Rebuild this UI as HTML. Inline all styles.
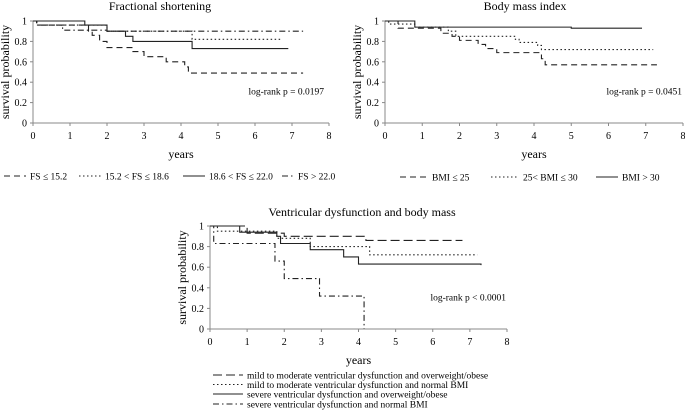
<!DOCTYPE html>
<html><head><meta charset="utf-8"><style>
html,body{margin:0;padding:0;background:#fff;}
svg{display:block;font-family:"Liberation Serif",serif;}
</style></head><body>
<svg id="s" width="685" height="416" viewBox="0 0 685 416" xmlns="http://www.w3.org/2000/svg"></svg>
<script>
// ---- Data (time in years, survival probability) ----
const xTicks = [0,1,2,3,4,5,6,7,8];
const yTicks = [0,0.2,0.4,0.6,0.8,1];
const yTickLabels = ["0","0.2","0.4","0.6","0.8","1"];

// Chart 1: Fractional shortening
const fs1T = [0,0.1,1.5,1.6,1.8,2.0,2.7,3.0,3.6,4.1,4.2,7.3];
const fs1S = [1,0.96,0.9,0.86,0.8,0.74,0.7,0.65,0.6,0.55,0.49,0.49];
const fs2T = [0,0.1,2.0,4.3,6.7];
const fs2S = [1,0.96,0.9,0.82,0.82];
const fs3T = [0,1.4,2.0,2.5,2.7,4.3,6.9];
const fs3S = [1,0.96,0.9,0.85,0.8,0.73,0.73];
const fs4T = [0,0.1,0.8,2.0,7.3];
const fs4S = [1,0.96,0.91,0.9,0.9];

// Chart 2: BMI
const b1T = [0,0.35,1.5,1.8,2.0,2.5,2.7,3.0,4.2,4.3,7.3];
const b1S = [1,0.93,0.88,0.85,0.81,0.77,0.73,0.69,0.63,0.57,0.57];
const b2T = [0,0.1,0.8,1.7,1.9,3.5,3.6,4.1,4.2,7.2];
const b2S = [1,0.97,0.94,0.9,0.85,0.82,0.79,0.76,0.72,0.72];
const b3T = [0,0.8,5.0,6.9];
const b3S = [1,0.94,0.93,0.93];

// Chart 3: ventricular dysfunction & body mass
const v1T = [0,1.0,2.0,4.2,6.8];
const v1S = [1,0.93,0.9,0.86,0.86];
const v2T = [0,0.2,1.8,2.7,4.3,7.2];
const v2S = [1,0.95,0.88,0.8,0.72,0.72];
const v3T = [0,0.8,1.8,1.9,2.7,3.6,4.0,7.3];
const v3S = [1,0.94,0.9,0.83,0.77,0.7,0.63,0.62];
const v4T = [0,0.1,1.75,2.0,2.95,4.15];
const v4S = [1,0.83,0.66,0.49,0.32,0];

const NS="http://www.w3.org/2000/svg";
const svg=document.getElementById('s');
function mk(tag,attrs,parent,txt){
  const e=document.createElementNS(NS,tag);
  for(const k in attrs) e.setAttribute(k,attrs[k]);
  if(txt!==undefined) e.textContent=txt;
  (parent||svg).appendChild(e);
  return e;
}
const DASH={dash:"6,4",dot:"1.5,2.5",solid:"none",dashdot:"6,3,1.5,3",long:"9,4"};

function chart(name,cfg){
  const g=mk('g',{},svg);
  
  
  const x=v=>cfg.x0+(cfg.x1-cfg.x0)*v/8;
  const y=v=>cfg.y0-(cfg.y0-cfg.y1)*v;
  const t=mk('text',{x:cfg.tx,y:cfg.ty,'font-size':12,'text-anchor':'middle'},g,cfg.title);
  
  
  const ax=mk('path',{d:`M${x(0)},${y(1)}V${y(0)}H${x(8)}`,stroke:'#888',fill:'none','stroke-width':1},g);
  
  
  xTicks.forEach(v=>{
    mk('line',{x1:x(v),x2:x(v),y1:y(0),y2:y(0)+3,stroke:'#888'},g);
    const l=mk('text',{x:x(v),y:y(0)+16,'font-size':10,'text-anchor':'middle'},g,String(v));
    
    
  });
  yTicks.forEach((v,i)=>{
    mk('line',{x1:x(0)-3,x2:x(0),y1:y(v),y2:y(v),stroke:'#888'},g);
    const l=mk('text',{x:x(0)-6,y:y(v)+3.5,'font-size':10,'text-anchor':'end'},g,yTickLabels[i]);
    
    
  });
  const yt=mk('text',{x:0,y:0,'font-size':12,'text-anchor':'middle',transform:`translate(${cfg.x0-24},${(cfg.y0+cfg.y1)/2}) rotate(-90)`},g,'survival probability');
  
  
  const xt=mk('text',{x:(x(0)+x(8))/2,y:y(0)+35,'font-size':12,'text-anchor':'middle'},g,'years');
  
  
  const lr=mk('text',{x:cfg.lrx,y:y(0.2)-8,'font-size':9.5,'text-anchor':'end'},g,cfg.lr);
  
  
  cfg.series.forEach(s=>{
    let d=`M${x(s.t[0])},${y(s.s[0])}`;
    for(let i=1;i<s.t.length;i++){
      d+=`H${x(s.t[i])}V${y(s.s[i])}`;
    }
    const p=mk('path',{d:d,fill:'none',stroke:'#222','stroke-width':1.1,'stroke-dasharray':DASH[s.style]},g);
    
    
  });
}

chart('fs-chart',{x0:33,x1:329,y0:123,y1:21,tx:160,ty:10,title:'Fractional shortening',lrx:324,lr:'log-rank p = 0.0197',
  series:[{t:fs1T,s:fs1S,style:'dash',name:'fs-le-15-2-curve'},{t:fs2T,s:fs2S,style:'dot',name:'fs-15-18-curve'},
          {t:fs3T,s:fs3S,style:'solid',name:'fs-18-22-curve'},{t:fs4T,s:fs4S,style:'dashdot',name:'fs-gt-22-curve'}]});
chart('bmi-chart',{x0:385,x1:683,y0:123,y1:21,tx:525,ty:10,title:'Body mass index',lrx:682,lr:'log-rank p = 0.0451',
  series:[{t:b1T,s:b1S,style:'dash',name:'bmi-le-25-curve'},{t:b2T,s:b2S,style:'dot',name:'bmi-25-30-curve'},
          {t:b3T,s:b3S,style:'solid',name:'bmi-gt-30-curve'}]});
chart('vd-chart',{x0:210,x1:507,y0:329,y1:226,tx:362,ty:216,title:'Ventricular dysfunction and body mass',lrx:506,lr:'log-rank p < 0.0001',
  series:[{t:v1T,s:v1S,style:'long',name:'mild-overweight-curve'},{t:v2T,s:v2S,style:'dot',name:'mild-normal-curve'},
          {t:v3T,s:v3S,style:'solid',name:'severe-overweight-curve'},{t:v4T,s:v4S,style:'dashdot',name:'severe-normal-curve'}]});

function legend(items){
  items.forEach(it=>{
    const g=mk('g',{},svg);
    
    
    mk('line',{x1:it.x,x2:it.x+it.w,y1:it.y,y2:it.y,stroke:'#222','stroke-width':1.1,'stroke-dasharray':DASH[it.style]},g);
    mk('text',{x:it.x+it.w+4,y:it.y+3.5,'font-size':9.5},g,it.label);
  });
}
legend([
  {x:4,y:176,w:22,style:'dash',label:'FS ≤ 15.2'},
  {x:79,y:176,w:22,style:'dot',label:'15.2 < FS ≤ 18.6'},
  {x:183,y:176,w:22,style:'solid',label:'18.6 < FS ≤ 22.0'},
  {x:282,y:176,w:12,style:'dashdot',label:'FS > 22.0'},
  {x:400,y:177,w:28,style:'dash',label:'BMI ≤ 25'},
  {x:491,y:177,w:28,style:'dot',label:'25< BMI ≤ 30'},
  {x:596,y:177,w:22,style:'solid',label:'BMI > 30'},
  {x:213,y:375,w:30,style:'long',label:'mild to moderate ventricular dysfunction and overweight/obese'},
  {x:213,y:384.5,w:30,style:'dot',label:'mild to moderate ventricular dysfunction and  normal BMI'},
  {x:213,y:394,w:30,style:'solid',label:'severe ventricular dysfunction and overweight/obese'},
  {x:213,y:404,w:30,style:'dashdot',label:'severe ventricular dysfunction and normal BMI'}
]);
</script>
</body></html>
